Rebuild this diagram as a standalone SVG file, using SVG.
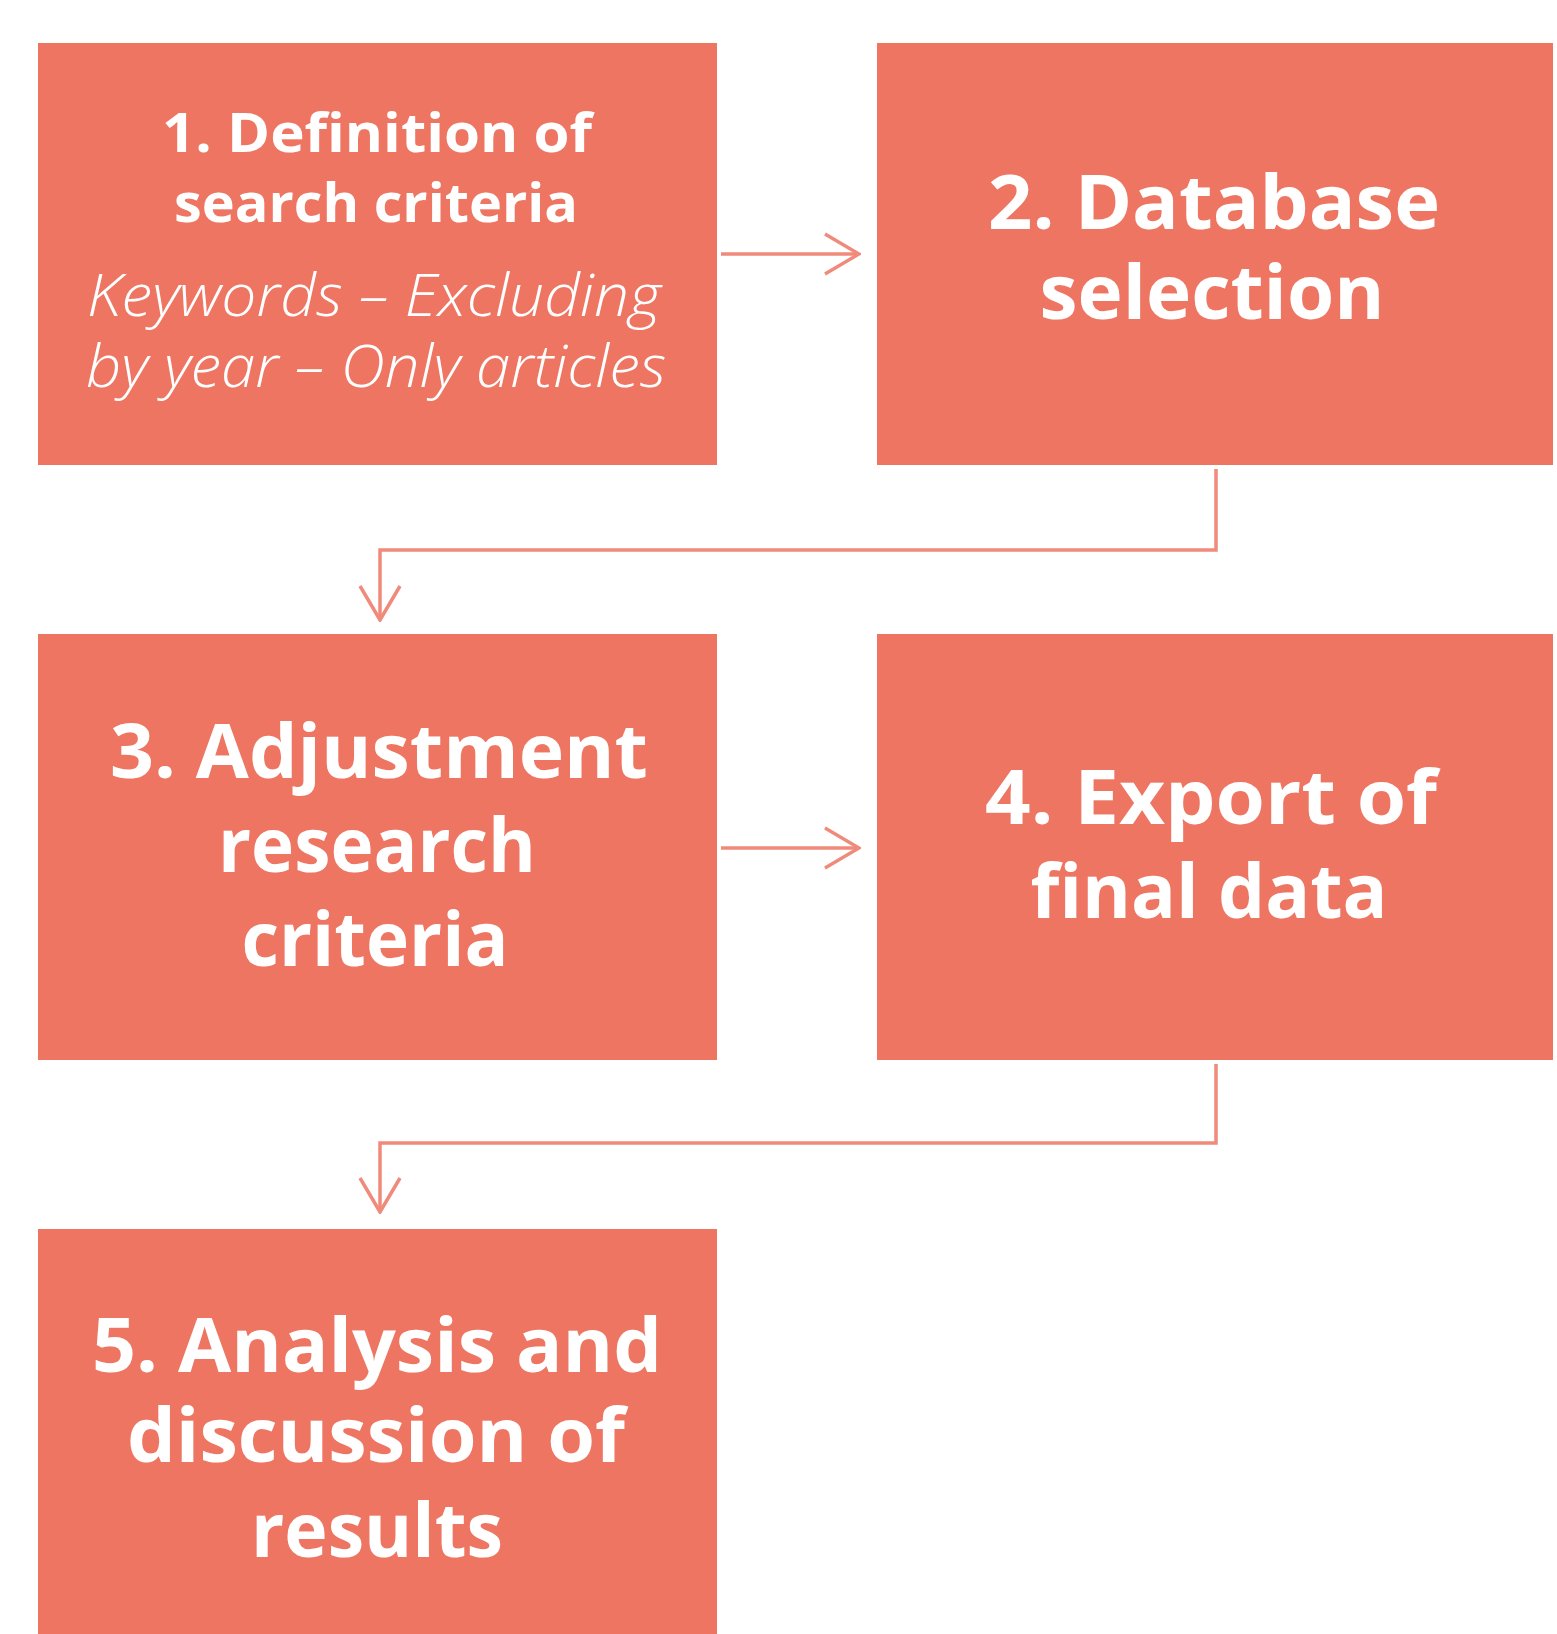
<svg xmlns="http://www.w3.org/2000/svg" width="1557" height="1634" viewBox="0 0 1557 1634">
<defs>
<style>
.box{fill:#EE7562}
.t{fill:#FFFFFF;font-family:"Open Sans","Liberation Sans",sans-serif;font-weight:700;text-anchor:middle}
.big{font-size:76px}
.small{font-size:54px}
.it{fill:#FFFFFF;font-family:"Open Sans","Liberation Sans",sans-serif;font-weight:300;font-style:italic;font-size:58px;text-anchor:middle}
.con{fill:none;stroke:#F08A7B;stroke-width:3.5}
</style>
<marker id="arr" viewBox="0 0 40 44" refX="38" refY="22" markerWidth="40" markerHeight="44" markerUnits="userSpaceOnUse" orient="auto">
<path d="M4 2 L38 22 L4 42" fill="none" stroke="#F08A7B" stroke-width="3.5"/>
</marker>
</defs>
<rect width="1557" height="1634" fill="#FFFFFF"/>
<g id="connectors">
<path class="con" d="M721 254 H859" marker-end="url(#arr)"/>
<path class="con" d="M1216 469 V550 H380 V620" marker-end="url(#arr)"/>
<path class="con" d="M721 848 H859" marker-end="url(#arr)"/>
<path class="con" d="M1216 1064 V1143 H380 V1212" marker-end="url(#arr)"/>
</g>
<g id="node1">
<rect class="box" x="38" y="43" width="679" height="422"/>
<text class="t small" x="377" y="152" textLength="430" lengthAdjust="spacingAndGlyphs">1. Definition of</text>
<text class="t small" x="376" y="222" textLength="404" lengthAdjust="spacingAndGlyphs">search criteria</text>
<text class="it" x="374" y="316" textLength="574" lengthAdjust="spacingAndGlyphs">Keywords – Excluding</text>
<text class="it" x="376" y="387" textLength="580" lengthAdjust="spacingAndGlyphs">by year – Only articles</text>
</g>
<g id="node2">
<rect class="box" x="877" y="43" width="676" height="422"/>
<text class="t big" x="1214" y="229" textLength="452" lengthAdjust="spacingAndGlyphs">2. Database</text>
<text class="t big" x="1212" y="319" textLength="345" lengthAdjust="spacingAndGlyphs">selection</text>
</g>
<g id="node3">
<rect class="box" x="38" y="634" width="679" height="426"/>
<text class="t big" x="379" y="778" textLength="538" lengthAdjust="spacingAndGlyphs">3. Adjustment</text>
<text class="t big" x="377" y="872" textLength="318" lengthAdjust="spacingAndGlyphs">research</text>
<text class="t big" x="375" y="966" textLength="267" lengthAdjust="spacingAndGlyphs">criteria</text>
</g>
<g id="node4">
<rect class="box" x="877" y="634" width="676" height="426"/>
<text class="t big" x="1211" y="824" textLength="452" lengthAdjust="spacingAndGlyphs">4. Export of</text>
<text class="t big" x="1209" y="918" textLength="357" lengthAdjust="spacingAndGlyphs">final data</text>
</g>
<g id="node5">
<rect class="box" x="38" y="1229" width="679" height="410"/>
<text class="t big" x="377" y="1372" textLength="570" lengthAdjust="spacingAndGlyphs">5. Analysis and</text>
<text class="t big" x="376" y="1462" textLength="498" lengthAdjust="spacingAndGlyphs">discussion of</text>
<text class="t big" x="377" y="1557" textLength="252" lengthAdjust="spacingAndGlyphs">results</text>
</g>
</svg>
